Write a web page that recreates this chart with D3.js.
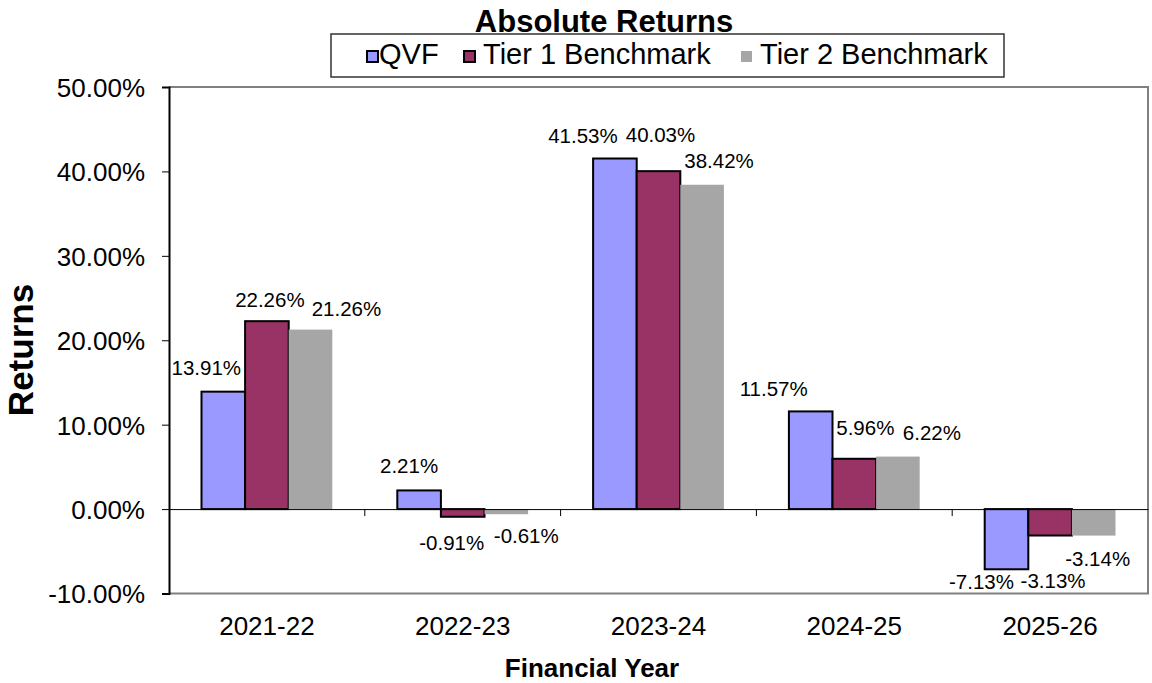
<!DOCTYPE html>
<html>
<head>
<meta charset="utf-8">
<script src="https://cdn.jsdelivr.net/npm/d3@7"></script>
<style>
  body { margin: 0; background: #fff; }
  text { font-family: Arial, "Liberation Sans", sans-serif; fill: #000; }
</style>
</head>
<body>
<script>
// data
const years = ['2021-22', '2022-23', '2023-24', '2024-25', '2025-26'];
const seriesNames = ['QVF', 'Tier 1 Benchmark', 'Tier 2 Benchmark'];
const qvf = [13.91, 2.21, 41.53, 11.57, -7.13];
const tier1 = [22.26, -0.91, 40.03, 5.96, -3.13];
const tier2 = [21.26, -0.61, 38.42, 6.22, -3.14];
const yTicks = [-10, 0, 10, 20, 30, 40, 50];

const colors = ['#9999ff', '#993366', '#a6a6a6'];
const outlined = [true, true, false];

// label nudges (Excel moved these by hand), [dx, dy] from bar centre / bar end
const nudges = [
  [[-17, -17], [3, -14], [36, -14]],
  [[-10, -17], [-11, 33], [20, 29]],
  [[-32, -16], [2, -29], [17, -17]],
  [[-37, -15], [11, -24], [34, -17]],
  [[-25, 20], [3, 52], [4, 30]]
];

const W = 1152, H = 683;
const plot = {left: 169, right: 1148, top: 87, bottom: 593.5};

const svg = d3.select('body')
  .append('svg')
  .attr('width', W)
  .attr('height', H);

const x0 = d3.scaleBand()
  .domain(years)
  .range([plot.left, plot.right]);

const x1 = d3.scaleBand()
  .domain(seriesNames)
  .range([x0.bandwidth() * 0.166, x0.bandwidth() * 0.834]);

const y = d3.scaleLinear()
  .domain([-10, 50])
  .range([plot.bottom, plot.top]);

const allSeries = [qvf, tier1, tier2];

/* plot frame: grey top/right/bottom */
svg.append('path')
  .attr('d', `M${plot.left},${plot.top}H${plot.right}V${plot.bottom}H${plot.left}`)
  .attr('fill', 'none')
  .attr('stroke', '#808080')
  .attr('stroke-width', 2);

/* bars */
const groups = svg.append('g')
  .selectAll('g')
  .data(years)
  .enter()
  .append('g')
  .attr('transform', d => `translate(${x0(d)},0)`);

groups.selectAll('rect')
  .data((d, i) => seriesNames.map((s, j) => ({s, j, v: allSeries[j][i]})))
  .enter()
  .append('rect')
  .attr('x', d => x1(d.s))
  .attr('width', x1.bandwidth())
  .attr('y', d => y(Math.max(0, d.v)))
  .attr('height', d => Math.abs(y(d.v) - y(0)))
  .attr('fill', d => colors[d.j])
  .attr('stroke', d => outlined[d.j] ? '#000' : 'none')
  .attr('stroke-width', 2);

/* y axis */
const yAxis = svg.append('g')
  .attr('transform', `translate(${plot.left},0)`)
  .call(d3.axisLeft(y).tickValues(yTicks).tickSize(7).tickPadding(17)
    .tickFormat(d => d.toFixed(2) + '%'));
yAxis.select('.domain').attr('stroke', '#000').attr('stroke-width', 2);
yAxis.selectAll('.tick line').attr('stroke', '#000');
yAxis.selectAll('.tick text')
  .style('font-size', '26px')
  .attr('font-family', 'Arial, "Liberation Sans", sans-serif')
  .attr('dy', '0.36em');

/* zero line with category ticks */
const xAxis = svg.append('g')
  .attr('transform', `translate(0,${y(0)})`)
  .call(d3.axisBottom(x0).tickSize(0).tickFormat(''));
xAxis.select('.domain').attr('stroke', '#000').attr('stroke-width', 1);
xAxis.selectAll('.tick').remove();

svg.append('g')
  .selectAll('line')
  .data(years.slice(1))
  .enter()
  .append('line')
  .attr('x1', d => x0(d)).attr('x2', d => x0(d))
  .attr('y1', y(0)).attr('y2', y(0) + 7)
  .attr('stroke', '#000');

/* category labels below the plot */
svg.append('g')
  .selectAll('text')
  .data(years)
  .enter()
  .append('text')
  .attr('x', d => x0(d) + x0.bandwidth() / 2)
  .attr('y', 635)
  .attr('text-anchor', 'middle')
  .style('font-size', '26px')
  .text(d => d);

/* value labels */
groups.selectAll('text.val')
  .data((d, i) => seriesNames.map((s, j) => ({s, j, i, v: allSeries[j][i]})))
  .enter()
  .append('text')
  .attr('class', 'val')
  .attr('x', d => x1(d.s) + x1.bandwidth() / 2 + nudges[d.i][d.j][0])
  .attr('y', d => y(d.v) + nudges[d.i][d.j][1])
  .attr('text-anchor', 'middle')
  .style('font-size', '20.5px')
  .text(d => d.v.toFixed(2) + '%');

/* titles */
svg.append('text')
  .attr('x', 604)
  .attr('y', 32)
  .attr('text-anchor', 'middle')
  .style('font-size', '31px')
  .style('font-weight', 'bold')
  .text('Absolute Returns');

svg.append('text')
  .attr('x', 592)
  .attr('y', 677)
  .attr('text-anchor', 'middle')
  .style('font-size', '26px')
  .style('font-weight', 'bold')
  .text('Financial Year');

svg.append('text')
  .attr('transform', 'translate(33,350) rotate(-90)')
  .attr('text-anchor', 'middle')
  .style('font-size', '35px')
  .style('font-weight', 'bold')
  .text('Returns');

/* legend */
const legendX = [366, 463, 740];
const legend = svg.append('g');
legend.append('rect')
  .attr('x', 331).attr('y', 34)
  .attr('width', 673).attr('height', 43)
  .attr('fill', '#fff')
  .attr('stroke', '#333')
  .attr('stroke-width', 1.5);

const items = legend.selectAll('g')
  .data(seriesNames)
  .enter()
  .append('g')
  .attr('transform', (d, i) => `translate(${legendX[i]},0)`);

items.append('rect')
  .attr('x', 1).attr('y', 51)
  .attr('width', 11).attr('height', 11)
  .attr('fill', (d, i) => colors[i])
  .attr('stroke', (d, i) => outlined[i] ? '#000' : 'none')
  .attr('stroke-width', 2);

items.append('text')
  .attr('x', (d, i) => i === 0 ? 13 : 20)
  .attr('y', 64)
  .style('font-size', '29px')
  .text(d => d);
</script>
</body>
</html>
